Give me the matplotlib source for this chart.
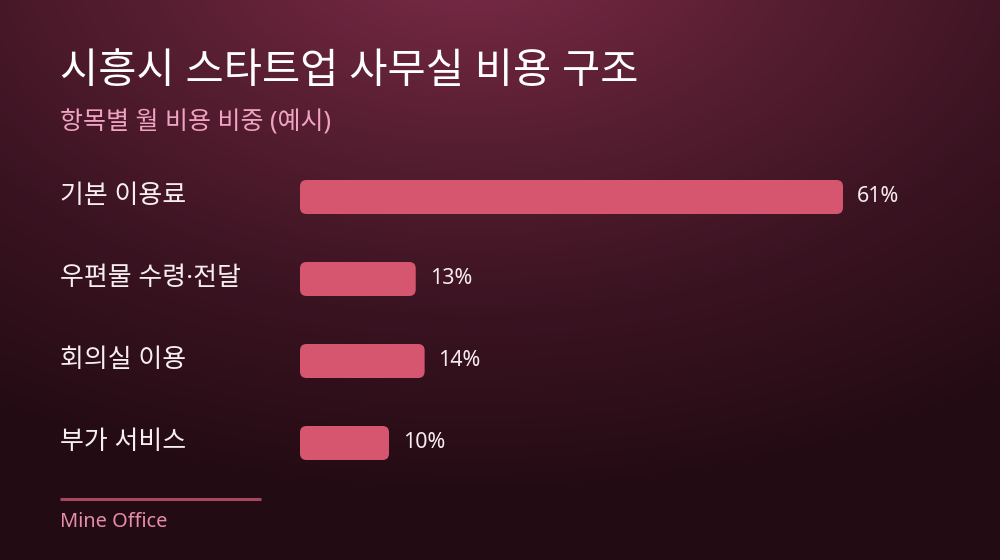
import numpy as np
import matplotlib
matplotlib.use('Agg')
import matplotlib.pyplot as plt
from matplotlib.patches import FancyBboxPatch
from matplotlib.colors import LinearSegmentedColormap
import matplotlib.transforms as mtransforms

plt.rcParams['font.family'] = ['Noto Sans', 'Noto Sans CJK KR', 'DejaVu Sans']

title = '시흥시 스타트업 사무실 비용 구조'
subtitle = '항목별 월 비용 비중 (예시)'
categories = ['기본 이용료', '우편물 수령·전달', '회의실 이용', '부가 서비스']
shares = [61, 13, 14, 10]
source = 'Mine Office'

W, H = 1000, 560
fig = plt.figure(figsize=(W / 100, H / 100), dpi=100)

# background radial gradient
bg = fig.add_axes([0, 0, 1, 1])
yy, xx = np.mgrid[0:H, 0:W]
d = np.sqrt(((xx - 470) / 900.0) ** 2 + ((yy + 60) / 560.0) ** 2)
d = np.clip(d, 0, 1)
cmap = LinearSegmentedColormap.from_list('bg', ['#7e2c49', '#5a1f33', '#3a1321', '#230b13'])
bg.imshow(d, cmap=cmap, aspect='auto', extent=[0, W, H, 0], vmin=0, vmax=1)
bg.set_xlim(0, W)
bg.set_ylim(H, 0)
bg.axis('off')

# bar axes: x from 300px to 900px, rows 82px apart
px_per_pct = 543 / 61
ax_left, ax_right = 300, 900
ax_top, ax_bot = 156, 484
ax = fig.add_axes([ax_left / W, 1 - ax_bot / H, (ax_right - ax_left) / W, (ax_bot - ax_top) / H])
ax.set_xlim(0, (ax_right - ax_left) / px_per_pct)
ax.set_ylim(len(categories) - 0.5, -0.5)
ax.axis('off')
ax.patch.set_alpha(0)

row_px = (ax_bot - ax_top) / len(categories)
bar_h = 34 / row_px
aspect = px_per_pct / row_px
rad = 6.5 / px_per_pct

for i, (cat, v) in enumerate(zip(categories, shares)):
    p = FancyBboxPatch((0, i - bar_h / 2), v, bar_h,
                       boxstyle='round,pad=0,rounding_size=%f' % rad,
                       mutation_aspect=aspect, fc='#d6566f', ec='none')
    ax.add_patch(p)
    ax.annotate('%d%%' % v, (v, i), xytext=(10, 0), textcoords='offset points',
                va='center', ha='left', color='#f6ecef', fontsize=15.5)

lab_tr = mtransforms.blended_transform_factory(fig.transFigure, ax.transData)
for i, cat in enumerate(categories):
    fig.text(60 / W, i - 0.01, cat, transform=lab_tr,
             va='center', ha='left', color='#f6eef1', fontsize=18.7)

fig.text(60 / W, 1 - 72 / H, title, va='center', ha='left', color='white',
         fontsize=29.9, fontweight='medium')
fig.text(60 / W, 1 - 123 / H, subtitle, va='center', ha='left', color='#f0a3c2',
         fontsize=18)

bg.plot([60, 261], [499, 499], color='#a9465f', lw=2.2, solid_capstyle='butt')
fig.text(60 / W, 1 - 522 / H, source, va='center', ha='left', color='#e88cab',
         fontsize=14.4)

fig.savefig('out.png', dpi=100)
